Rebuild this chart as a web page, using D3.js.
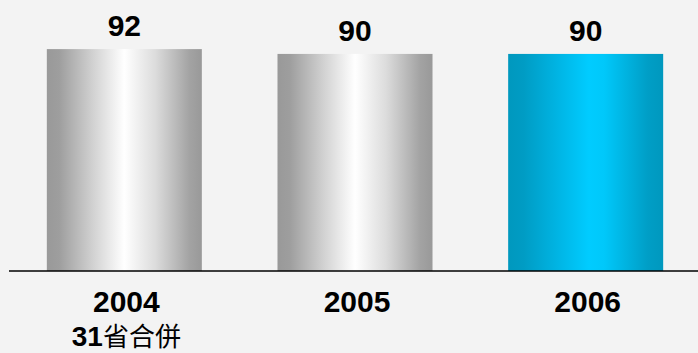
<!DOCTYPE html>
<html>
<head>
<meta charset="utf-8">
<script src="https://cdn.jsdelivr.net/npm/d3@7"></script>
<style>
  html, body { margin: 0; padding: 0; background: #f3f3f3; }
  svg { display: block; }
</style>
</head>
<body>
<svg id="chart" width="698" height="353"></svg>
<script>
const categories = ["2004", "2005", "2006"];
const subLabels = ["31省合併", "", ""];
const values = [92, 90, 90];
const highlight = [false, false, true];

const W = 698, H = 353;
const svg = d3.select("#chart");
svg.append("rect").attr("width", W).attr("height", H).attr("fill", "#f3f3f3");

const baseY = 271;
const x = d3.scaleBand().domain(categories).range([9, 701]).paddingInner(0.328).paddingOuter(0.164);
const y = d3.scaleLinear().domain([0, 100]).range([baseY, baseY - 241.2]);

const defs = svg.append("defs");
const grey = defs.append("linearGradient").attr("id", "gGrey").attr("x1", "0%").attr("x2", "100%").attr("y1", "0%").attr("y2", "0%");
[[0, "#999999"], [0.08, "#9e9e9e"], [0.3, "#d2d2d2"], [0.5, "#ffffff"], [0.7, "#dcdcdc"], [0.92, "#a3a3a3"], [1, "#999999"]]
  .forEach(([o, c]) => grey.append("stop").attr("offset", o).attr("stop-color", c));
const blue = defs.append("linearGradient").attr("id", "gBlue").attr("x1", "0%").attr("x2", "100%").attr("y1", "0%").attr("y2", "0%");
[[0, "#0098be"], [0.1, "#009cc4"], [0.35, "#00b8e8"], [0.52, "#00ccff"], [0.62, "#00c8fa"], [0.9, "#009ec6"], [1, "#0098be"]]
  .forEach(([o, c]) => blue.append("stop").attr("offset", o).attr("stop-color", c));

const data = categories.map((c, i) => ({ c, v: values[i], hl: highlight[i], sub: subLabels[i] }));

svg.selectAll("rect.bar").data(data).join("rect")
  .attr("class", "bar")
  .attr("x", d => x(d.c))
  .attr("width", x.bandwidth())
  .attr("y", d => y(d.v))
  .attr("height", d => y(0) - y(d.v))
  .attr("fill", d => d.hl ? "url(#gBlue)" : "url(#gGrey)");

svg.append("line")
  .attr("x1", 9).attr("x2", W)
  .attr("y1", baseY).attr("y2", baseY)
  .attr("stroke", "#000").attr("stroke-width", 1.5);

const fontBold = "'Liberation Sans', Arial, sans-serif";

svg.selectAll("text.val").data(data).join("text")
  .attr("class", "val")
  .attr("x", d => x(d.c) + x.bandwidth() / 2)
  .attr("y", d => y(d.v) - 13)
  .attr("text-anchor", "middle")
  .attr("font-family", fontBold)
  .attr("font-weight", "bold")
  .attr("font-size", 30)
  .attr("fill", "#000")
  .text(d => d.v);

svg.selectAll("text.cat").data(data).join("text")
  .attr("class", "cat")
  .attr("x", d => x(d.c) + x.bandwidth() / 2 + 2)
  .attr("y", 312)
  .attr("text-anchor", "middle")
  .attr("font-family", fontBold)
  .attr("font-weight", "bold")
  .attr("font-size", 30)
  .attr("fill", "#000")
  .text(d => d.c);

const subs = svg.selectAll("text.sub").data(data.filter(d => d.sub)).join("text")
  .attr("class", "sub")
  .attr("x", d => x(d.c) + x.bandwidth() / 2 + 2)
  .attr("y", 346)
  .attr("text-anchor", "middle")
  .attr("fill", "#000");
subs.each(function(d) {
  const t = d3.select(this);
  const m = d.sub.match(/^(\d+)(.*)$/);
  t.append("tspan").attr("font-family", fontBold).attr("font-weight", "bold").attr("font-size", 28).text(m ? m[1] : "");
  t.append("tspan").attr("font-family", "'Noto Sans CJK TC', 'Noto Sans CJK SC', sans-serif").attr("font-size", 26).text(m ? m[2] : d.sub);
});
</script>
</body>
</html>
